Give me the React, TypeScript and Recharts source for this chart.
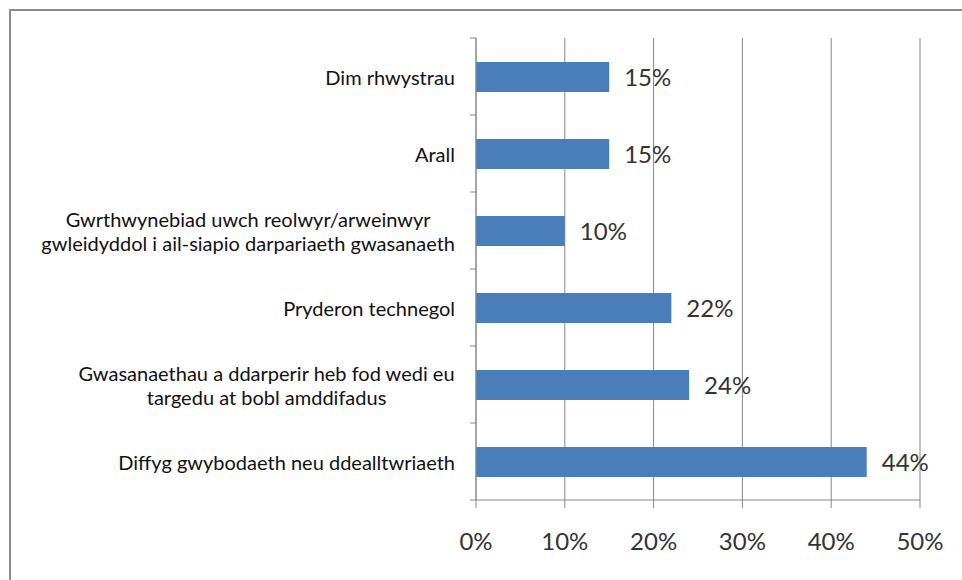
import React from 'react';
import { BarChart, Bar, XAxis, YAxis, CartesianGrid, LabelList } from 'recharts';

const categories: string[] = [
  'Dim rhwystrau',
  'Arall',
  'Gwrthwynebiad uwch reolwyr/arweinwyr\ngwleidyddol i ail-siapio darpariaeth gwasanaeth',
  'Pryderon technegol',
  'Gwasanaethau a ddarperir heb fod wedi eu\ntargedu at bobl amddifadus',
  'Diffyg gwybodaeth neu ddealltwriaeth',
];
const values: number[] = [15, 15, 10, 22, 24, 44];
const xTicks: number[] = [0, 10, 20, 30, 40, 50];

const data = categories.map((name, i) => ({ name, value: values[i] }));

const W = 962;
const H = 580;
const MARGIN = { top: 38, right: 42, bottom: 0, left: 0 };
const X_AXIS_H = 80;
const Y_AXIS_W = 476;
const TICK_SIZE = 6;
const TICK_MARGIN = 15;
const LINE_H = 24;
const GRAY = '#878787';
const CAT_FONT = '20px Lato';
const BAND = (H - MARGIN.top - MARGIN.bottom - X_AXIS_H) / categories.length;

let ctx: CanvasRenderingContext2D | null = null;
function measure(t: string): number {
  if (!ctx) {
    const c = document.createElement('canvas');
    ctx = c.getContext('2d');
  }
  if (!ctx) return t.length * 9;
  ctx.font = CAT_FONT;
  return ctx.measureText(t).width;
}

const CategoryTick = (props: any) => {
  const { x, y, payload, index } = props;
  const lines: string[] = String(payload.value).split('\n');
  const axisX = x + TICK_SIZE + TICK_MARGIN;
  const n = lines.length;
  let anchor: 'end' | 'middle' = 'end';
  let tx = x;
  if (n > 1) {
    const w = Math.max(...lines.map(measure));
    anchor = 'middle';
    tx = x - w / 2;
  }
  return (
    <g>
      <line x1={axisX - TICK_SIZE} x2={axisX} y1={y - BAND / 2} y2={y - BAND / 2} stroke={GRAY} strokeWidth={1} />
      {index === categories.length - 1 && (
        <line x1={axisX - TICK_SIZE} x2={axisX} y1={y + BAND / 2} y2={y + BAND / 2} stroke={GRAY} strokeWidth={1} />
      )}
      {lines.map((ln, i) => (
        <text
          key={i}
          x={tx}
          y={y + (i - (n - 1) / 2) * LINE_H}
          textAnchor={anchor}
          dominantBaseline="central"
          fontFamily="Lato"
          fontSize={20}
          fill="#111"
        >
          {ln}
        </text>
      ))}
    </g>
  );
};

export default function App() {
  return (
    <div style={{ position: 'absolute', left: 0, top: 0, width: W, height: H, overflow: 'hidden', background: '#fff' }}>
      <div
        style={{
          position: 'absolute',
          left: 9,
          top: 9,
          width: 1200,
          height: 1200,
          borderLeft: '2px solid #8c8c8c',
          borderTop: '2px solid #8c8c8c',
        }}
      />
      <div style={{ position: 'absolute', left: 0, top: 0 }}>
        <BarChart width={W} height={H} data={data} layout="vertical" margin={MARGIN}>
          <CartesianGrid horizontal={false} vertical={true} stroke={GRAY} />
          <XAxis
            type="number"
            domain={[0, 50]}
            ticks={xTicks}
            tickFormatter={(v: number) => `${v}%`}
            height={X_AXIS_H}
            tickSize={8}
            tickMargin={25}
            axisLine={{ stroke: GRAY }}
            tickLine={{ stroke: GRAY }}
            tick={{ fontFamily: 'Lato', fontSize: 24, fill: '#333' }}
          />
          <YAxis
            type="category"
            dataKey="name"
            width={Y_AXIS_W}
            tickSize={TICK_SIZE}
            tickMargin={TICK_MARGIN}
            tickLine={false}
            axisLine={{ stroke: GRAY }}
            interval={0}
            tick={<CategoryTick />}
          />
          <Bar dataKey="value" fill="#4A7EBB" barSize={30} isAnimationActive={false}>
            <LabelList
              dataKey="value"
              position="right"
              offset={15}
              formatter={(v: any) => `${v}%`}
              fill="#333"
              fontFamily="Lato"
              fontSize={24}
            />
          </Bar>
        </BarChart>
      </div>
    </div>
  );
}
